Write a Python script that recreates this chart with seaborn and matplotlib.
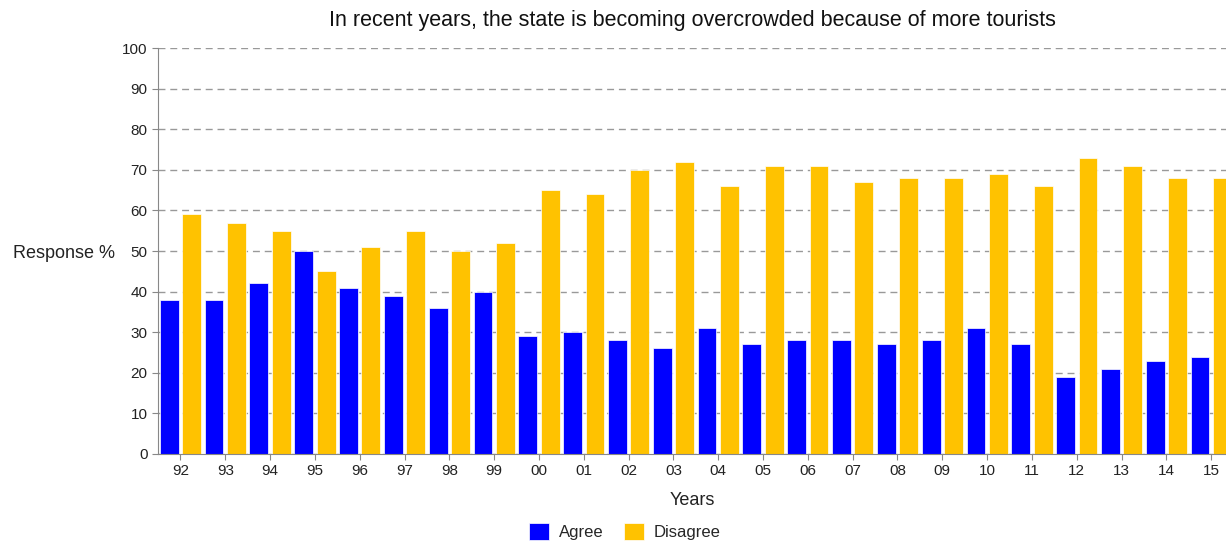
import pandas as pd
import matplotlib
matplotlib.use("Agg")
import matplotlib.pyplot as plt
import seaborn as sns

# data
years = ["92", "93", "94", "95", "96", "97", "98", "99", "00", "01", "02", "03",
         "04", "05", "06", "07", "08", "09", "10", "11", "12", "13", "14", "15"]
agree = [38, 38, 42, 50, 41, 39, 36, 40, 29, 30, 28, 26,
         31, 27, 28, 28, 27, 28, 31, 27, 19, 21, 23, 24]
disagree = [59, 57, 55, 45, 51, 55, 50, 52, 65, 64, 70, 72,
            66, 71, 71, 67, 68, 68, 69, 66, 73, 71, 68, 68]

df = pd.DataFrame({
    "Years": years * 2,
    "Response": agree + disagree,
    "Answer": ["Agree"] * len(years) + ["Disagree"] * len(years),
})

sns.set_style("white")
plt.rcParams["font.family"] = ["Liberation Sans", "DejaVu Sans"]

fig = plt.figure(figsize=(12.26, 5.42), dpi=100)
ax = fig.add_axes([0.1289, 0.1624, 0.8711, 0.749])

sns.barplot(data=df, x="Years", y="Response", hue="Answer", order=years,
            palette={"Agree": "#0000ff", "Disagree": "#ffc200"},
            width=1.0, gap=0.16, edgecolor="white", linewidth=0.5, saturation=1,
            ax=ax, legend=True)

ax.set_ylim(0, 100)
ax.set_xlim(-0.5, 23.33)
ax.set_yticks(range(0, 101, 10))
ax.yaxis.grid(True, linestyle=(0, (5, 3.5)), color="#999999", linewidth=1)
ax.set_axisbelow(True)
for s in ["top", "right"]:
    ax.spines[s].set_visible(False)
for s in ["left", "bottom"]:
    ax.spines[s].set_color("#888888")
ax.tick_params(axis="both", length=4, color="#888888", labelsize=11,
               labelcolor="#222222", bottom=True, left=True)

ax.set_title("In recent years, the state is becoming overcrowded because of more tourists",
             fontsize=15.5, color="#111111", pad=16)
ax.set_ylabel("Response %", rotation=0, fontsize=13, color="#222222",
              ha="right", va="center")
ax.yaxis.set_label_coords(-0.04, 0.495)
ax.set_xlabel("Years", fontsize=13, color="#222222", labelpad=10)

ax.legend(loc="center", bbox_to_anchor=(0.437, -0.19), ncol=2, frameon=False,
          fontsize=12, handlelength=1.2, handleheight=1.2, columnspacing=1.2,
          handletextpad=0.6)

fig.savefig("out.png", dpi=100)
